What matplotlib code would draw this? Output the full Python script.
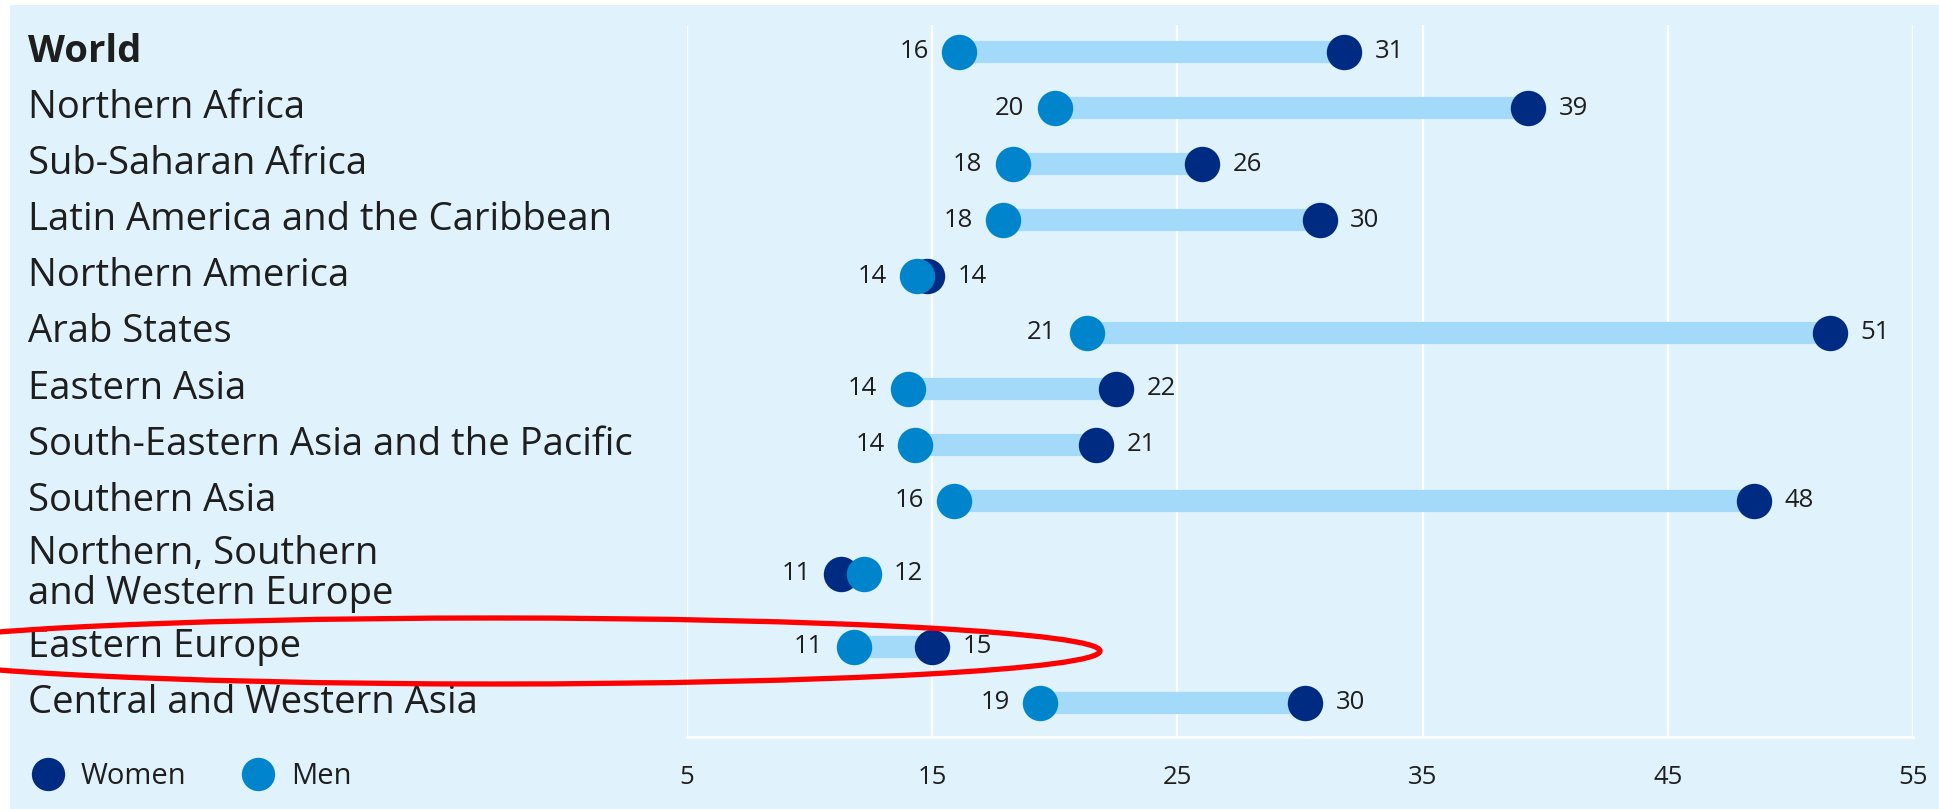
import matplotlib
matplotlib.use("Agg")
import matplotlib.pyplot as plt
from matplotlib.lines import Line2D
from matplotlib.patches import Ellipse, Rectangle
from matplotlib.transforms import blended_transform_factory

plt.rcParams['font.family'] = ['Open Sans', 'DejaVu Sans']

# ---------------- data ----------------
regions = [
    "World",
    "Northern Africa",
    "Sub-Saharan Africa",
    "Latin America and the Caribbean",
    "Northern America",
    "Arab States",
    "Eastern Asia",
    "South-Eastern Asia and the Pacific",
    "Southern Asia",
    "Northern, Southern\nand Western Europe",
    "Eastern Europe",
    "Central and Western Asia",
]
women = [31.8, 39.3, 26.0, 30.8, 14.8, 51.6, 22.5, 21.7, 48.5, 11.3, 15.0, 30.2]
men = [16.1, 20.0, 18.3, 17.9, 14.4, 21.3, 14.0, 14.3, 15.9, 12.2, 11.8, 19.4]
women_labels = [31, 39, 26, 30, 14, 51, 22, 21, 48, 11, 15, 30]
men_labels = [16, 20, 18, 18, 14, 21, 14, 14, 16, 12, 11, 19]
xticks = [5, 15, 25, 35, 45, 55]
highlight = "Eastern Europe"

# ---------------- style ----------------
C_WOMEN = "#002B82"
C_MEN = "#0085CC"
C_BAR = "#A3D9F9"
C_BG = "#E0F3FD"
C_TEXT = "#1E1E1E"

W, H = 1940, 809
fig = plt.figure(figsize=(W / 100, H / 100), dpi=100, facecolor="white")

# light-blue panel background
fig.add_artist(Rectangle((10 / W, 0), 1 - 10 / W, 1 - 5 / H, transform=fig.transFigure,
                         facecolor=C_BG, edgecolor="none", zorder=0))

ax = fig.add_axes([687 / W, 1 - 737 / H, (1913 - 687) / W, (737 - 25) / H])
ax.set_facecolor("none")

# row positions (extra room around two-line labels)
ypos = []
y = 0.0
for i, r in enumerate(regions):
    if i > 0:
        y += 1.0
        if "\n" in r or "\n" in regions[i - 1]:
            y += 0.3
    ypos.append(y)

step_px = 56.1
first_px = 52
ax.set_xlim(5, 55)
ax.set_ylim((737 - first_px) / step_px, -(first_px - 25) / step_px)

for xt in xticks:
    ax.axvline(xt, color="white", lw=1.6, zorder=1)

for sp in ["top", "left", "right"]:
    ax.spines[sp].set_visible(False)
ax.spines["bottom"].set_color("white")
ax.spines["bottom"].set_linewidth(2)
ax.set_yticks([])
ax.set_xticks(xticks)
ax.set_xticklabels([str(t) for t in xticks], fontsize=18.5, color=C_TEXT)
ax.tick_params(axis="x", length=0, pad=20)

lbl_tr = blended_transform_factory(fig.transFigure, ax.transData)
for i, r in enumerate(regions):
    yy = ypos[i]
    ax.plot([men[i], women[i]], [yy, yy], color=C_BAR, lw=16, solid_capstyle="butt", zorder=2)
    ax.plot([women[i]], [yy], marker="o", ms=25.5, color=C_WOMEN, mec="none", ls="", zorder=3)
    ax.plot([men[i]], [yy], marker="o", ms=25.5, color=C_MEN, mec="none", ls="", zorder=4)
    if women[i] < men[i]:
        lo_v, lo_t, hi_v, hi_t = women[i], women_labels[i], men[i], men_labels[i]
    else:
        lo_v, lo_t, hi_v, hi_t = men[i], men_labels[i], women[i], women_labels[i]
    ax.annotate(str(lo_t), (lo_v, yy), xytext=(-22, 0), textcoords="offset points",
                ha="right", va="center", fontsize=18.5, color=C_TEXT)
    ax.annotate(str(hi_t), (hi_v, yy), xytext=(22, 0), textcoords="offset points",
                ha="left", va="center", fontsize=18.5, color=C_TEXT)
    ax.text(28 / W, yy, r, transform=lbl_tr, ha="left", va="center", fontsize=27.5,
            color=C_TEXT, fontweight="bold" if r == "World" else "normal",
            linespacing=1.06, clip_on=False)

# legend
handles = [Line2D([], [], marker="o", ls="", ms=24, color=C_WOMEN, mec="none", label="Women"),
           Line2D([], [], marker="o", ls="", ms=24, color=C_MEN, mec="none", label="Men")]
leg = ax.legend(handles=handles, ncol=2, loc="center left",
                bbox_to_anchor=(31 / W, 1 - 777 / H), bbox_transform=fig.transFigure,
                frameon=False, fontsize=21, handlelength=1.15, handletextpad=0.55,
                columnspacing=1.9, borderpad=0, borderaxespad=0)
for t in leg.get_texts():
    t.set_color(C_TEXT)

# red highlight ellipse around Eastern Europe
fig.add_artist(Ellipse((494 / W, 1 - 651 / H), 1212 / W, 66 / H, transform=fig.transFigure,
                       fill=False, edgecolor="#FF0000", lw=3.8, zorder=10))

fig.savefig("out.png", dpi=100, facecolor="white")
